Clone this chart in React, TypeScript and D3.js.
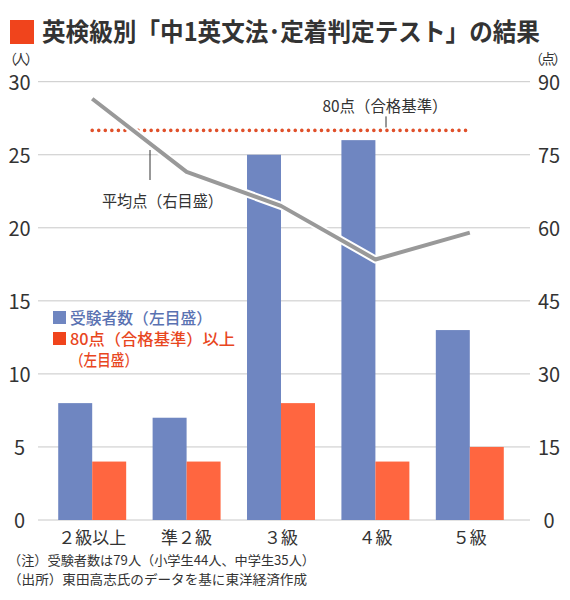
import * as d3 from 'd3';

// 英検級別「中1英文法・定着判定テスト」の結果
const grades = ['２級以上', '準２級', '３級', '４級', '５級'];
const examinees = [8, 7, 25, 26, 13];   // 受験者数（左目盛）
const passed = [4, 4, 8, 4, 5];         // 80点以上（左目盛）
const avgScore = [86.5, 71.5, 64.5, 53.5, 59]; // 平均点（右目盛）
const leftTicks = [0, 5, 10, 15, 20, 25, 30];
const rightTicks = [0, 15, 30, 45, 60, 75, 90];
const passMark = [80];

const FONT = '"Noto Sans CJK JP", "Noto Sans", sans-serif';
const BLUE = '#6f86c1';
const ORANGE = '#ff6640';
const DOT = '#e0502a';
const TEXT = '#333';

export default function App() {
    const width = 570;
    const height = 600;

    const yLeft = d3.scaleLinear().domain([0, 30]).range([520, 81.7]);
    const yRight = d3.scaleLinear().domain([0, 90]).range([520, 81.7]);

    const x0 = d3.scaleBand<string>().domain(grades).range([45, 517])
        .paddingInner(0.28).paddingOuter(0.14);
    const x1 = d3.scaleBand<string>().domain(['examinees', 'passed'])
        .range([0, x0.bandwidth()]);

    const cx = (g: string) => (x0(g) as number) + x0.bandwidth() / 2;

    const line = d3.line<number>()
        .x((_, i) => cx(grades[i]))
        .y(d => yRight(d));
    const avgPath = line(avgScore) || '';

    const firstX = cx(grades[0]);
    const lastX = cx(grades[grades.length - 1]);

    return (
        <svg width={width} height={height}
            style={{ position: 'absolute', left: 0, top: 0, background: '#fff' }}
            fontFamily={FONT}>
            {/* title */}
            <rect x={10} y={20} width={24} height={24} fill="#f0441c" />
            <text x={42} y={41} fontSize={25} fontWeight="bold" fill={TEXT}
                textLength={498} lengthAdjust="spacingAndGlyphs">
                英検級別「中1英文法･定着判定テスト」の結果
            </text>

            {/* axis units */}
            <text x={3} y={64} fontSize={14} fill={TEXT} textLength={36} lengthAdjust="spacing">（人）</text>
            <text x={567} y={64} fontSize={14} fill={TEXT} textAnchor="end" textLength={38} lengthAdjust="spacing">（点）</text>

            {/* grid + tick labels */}
            {leftTicks.map(t => (
                <g key={'gl' + t}>
                    <line x1={38} x2={530} y1={yLeft(t)} y2={yLeft(t)} stroke="#c8c8c8" strokeWidth={1} />
                    <text x={19.5} y={yLeft(t)} dy="0.42em" fontSize={20} fill={TEXT} textAnchor="middle">{t}</text>
                </g>
            ))}
            {rightTicks.map(t => (
                <text key={'gr' + t} x={549} y={yRight(t)} dy="0.42em" fontSize={20} fill={TEXT} textAnchor="middle">{t}</text>
            ))}

            {/* bars */}
            {grades.map((g, i) => (
                <g key={g} transform={`translate(${x0(g)},0)`}>
                    <rect x={x1('examinees')} width={x1.bandwidth()}
                        y={yLeft(examinees[i])} height={yLeft(0) - yLeft(examinees[i])} fill={BLUE} />
                    <rect x={x1('passed')} width={x1.bandwidth()}
                        y={yLeft(passed[i])} height={yLeft(0) - yLeft(passed[i])} fill={ORANGE} />
                </g>
            ))}

            {/* 80 point line */}
            {passMark.map(p => (
                <g key={'pm' + p}>
                    <line x1={firstX} x2={lastX} y1={yRight(p)} y2={yRight(p)}
                        stroke={DOT} strokeWidth={3.6} strokeLinecap="round" strokeDasharray="0 6.55" />
                    <line x1={386} x2={386} y1={yRight(p) - 14} y2={yRight(p) - 3} stroke={TEXT} strokeWidth={1} />
                    <text x={385} y={112} fontSize={16} fill={TEXT} textAnchor="middle"
                        textLength={125} lengthAdjust="spacingAndGlyphs">{p}点（合格基準）</text>
                </g>
            ))}

            {/* average line */}
            <path d={avgPath} fill="none" stroke="#fff" strokeWidth={8} strokeLinejoin="round" />
            <path d={avgPath} fill="none" stroke="#999" strokeWidth={4} strokeLinejoin="round" />
            <line x1={150} x2={150} y1={150} y2={180} stroke={TEXT} strokeWidth={1} />
            <text x={102} y={207} fontSize={16} fill={TEXT} textLength={121} lengthAdjust="spacingAndGlyphs">平均点（右目盛）</text>

            {/* legend */}
            <rect x={53} y={311} width={13} height={13} fill={BLUE} />
            <text x={70} y={324} fontSize={15.5} fontWeight={500} fill="#5a72b2"
                textLength={142} lengthAdjust="spacingAndGlyphs">受験者数（左目盛）</text>
            <rect x={53} y={332} width={13} height={13} fill="#f0441c" />
            <text x={70} y={345} fontSize={15.5} fontWeight={500} fill="#e8461e"
                textLength={165} lengthAdjust="spacingAndGlyphs">80点（合格基準）以上</text>
            <text x={70} y={366} fontSize={15.5} fontWeight={500} fill="#e8461e"
                textLength={68} lengthAdjust="spacingAndGlyphs">（左目盛）</text>

            {/* x labels */}
            {grades.map(g => (
                <text key={'xl' + g} x={cx(g)} y={544} fontSize={17} fill={TEXT} textAnchor="middle">{g}</text>
            ))}

            {/* notes */}
            <text x={8} y={565} fontSize={13} fill={TEXT} textLength={307} lengthAdjust="spacingAndGlyphs">
                （注）受験者数は79人（小学生44人、中学生35人）
            </text>
            <text x={8} y={584} fontSize={13} fill={TEXT} textLength={299} lengthAdjust="spacingAndGlyphs">
                （出所）東田高志氏のデータを基に東洋経済作成
            </text>
        </svg>
    );
}
